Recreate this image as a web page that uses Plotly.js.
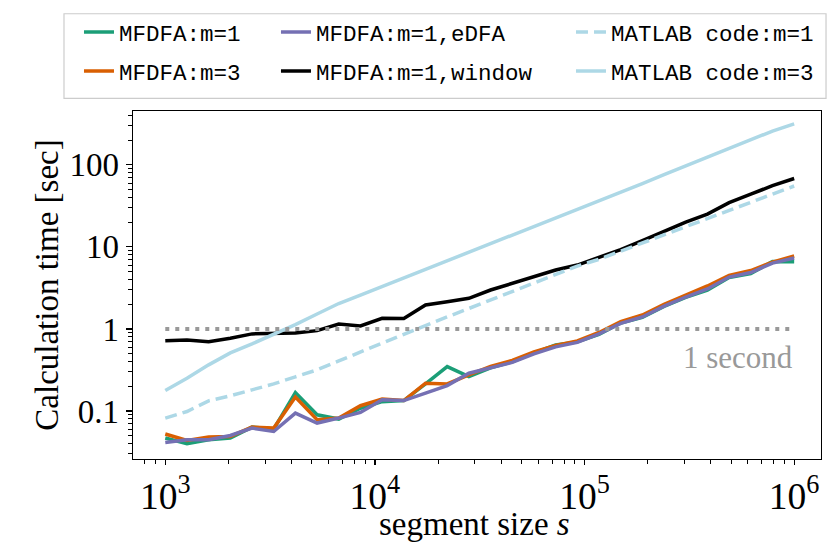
<!DOCTYPE html>
<html>
<head>
<meta charset="utf-8">
<script src="https://cdn.plot.ly/plotly-3.0.1.min.js"></script>
<style>
  html, body { margin: 0; padding: 0; background: #fff; }
  #chart { width: 830px; height: 554px; }
</style>
</head>
<body>
<div id="chart"></div>
<script>
// segment sizes (30 log-spaced sizes from 1e3 to 1e6)
var segSize = [1000, 1269, 1610, 2043, 2593, 3290, 4175, 5298, 6723, 8532,
  10826, 13738, 17433, 22122, 28072, 35622, 45204, 57362, 72790, 92367,
  117210, 148735, 188739, 239503, 303920, 385662, 489390, 621017, 788046, 1000000];

// calculation time [sec]
var mfdfaM1 = [0.0468, 0.0399, 0.0446, 0.0468, 0.0637, 0.0602, 0.168, 0.0899, 0.0797, 0.108,
  0.130, 0.134, 0.214, 0.348, 0.263, 0.335, 0.397, 0.511, 0.639, 0.695,
  0.857, 1.18, 1.38, 1.88, 2.42, 2.98, 4.23, 4.73, 6.62, 6.59];
var mfdfaM3 = [0.0524, 0.0438, 0.0481, 0.0490, 0.0637, 0.0619, 0.148, 0.0781, 0.082, 0.116,
  0.140, 0.134, 0.218, 0.214, 0.276, 0.350, 0.414, 0.525, 0.630, 0.715,
  0.906, 1.23, 1.48, 1.99, 2.59, 3.34, 4.48, 5.15, 6.53, 7.73];
var mfdfaEdfa = [0.0414, 0.0446, 0.0446, 0.0503, 0.0619, 0.0563, 0.0942, 0.0713, 0.082, 0.0959,
  0.137, 0.134, 0.165, 0.204, 0.289, 0.340, 0.391, 0.496, 0.604, 0.685,
  0.870, 1.17, 1.40, 1.90, 2.45, 3.07, 4.29, 4.87, 6.35, 7.31];
var mfdfaWindow = [0.72, 0.734, 0.70, 0.77, 0.87, 0.887, 0.89, 0.954, 1.15, 1.09,
  1.35, 1.34, 1.96, 2.15, 2.36, 2.98, 3.60, 4.33, 5.22, 6.01,
  7.51, 9.27, 11.9, 15.6, 20.0, 25.1, 34.6, 43.9, 55.7, 68.1];
var matlabM1 = [0.082, 0.0986, 0.133, 0.153, 0.181, 0.214, 0.261, 0.317, 0.408, 0.525,
  0.676, 0.867, 1.10, 1.40, 1.77, 2.25, 2.85, 3.62, 4.60, 5.84,
  7.06, 8.87, 11.2, 14.0, 17.6, 22.2, 27.8, 34.9, 43.9, 55.2];
var matlabM3 = [0.178, 0.251, 0.365, 0.511, 0.657, 0.857, 1.13, 1.52, 2.04, 2.59,
  3.29, 4.17, 5.28, 6.72, 8.52, 10.8, 13.7, 17.4, 22.1, 28.0,
  36.1, 45.8, 58.9, 75.8, 96.6, 124, 158, 203, 258, 316];

// one-second reference
var refX = [1000, 1000000];
var refY = [1, 1];

var serif = "Liberation Serif, Times New Roman, serif";
var mono = "Liberation Mono, DejaVu Sans Mono, monospace";

function line(y, name, color, legend, dash) {
  return {
    x: segSize, y: y, name: name, type: "scatter", mode: "lines",
    line: { color: color, width: 3.5, dash: dash || "solid" },
    legend: legend
  };
}

var data = [
  line(mfdfaM1, "MFDFA:m=1", "#1b9e77", "legend"),
  line(mfdfaM3, "MFDFA:m=3", "#d95f02", "legend4"),
  line(mfdfaEdfa, "MFDFA:m=1,eDFA", "#7570b3", "legend2"),
  line(mfdfaWindow, "MFDFA:m=1,window", "#000000", "legend5"),
  line(matlabM1, "MATLAB code:m=1", "#add8e6", "legend3", "12px,6px"),
  line(matlabM3, "MATLAB code:m=3", "#add8e6", "legend6"),
  {
    x: refX, y: refY, type: "scatter", mode: "lines", showlegend: false,
    line: { color: "#999999", width: 4, dash: "4px,6px" }, hoverinfo: "skip"
  }
];

// one legend per entry so the three columns can sit where the reference has them
function legendAt(x, y) {
  return {
    x: x, y: y, xanchor: "left", yanchor: "middle",
    bgcolor: "rgba(0,0,0,0)", borderwidth: 0,
    font: { family: mono, size: 22.5, color: "#000" }
  };
}
var colX = [-0.0785, 0.2078, 0.6366];
var rowY = [1.226, 1.1142];

var axisCommon = {
  type: "log", showgrid: false, zeroline: false,
  showline: true, linecolor: "#000", linewidth: 1.3, mirror: true,
  ticks: "outside", ticklen: 6, tickwidth: 1.2, tickcolor: "#000",
  minor: { ticks: "outside", ticklen: 3.5, tickwidth: 1, tickcolor: "#000", dtick: "D1" }
};

var layout = {
  width: 830, height: 554,
  margin: { l: 133, r: 9, t: 111, b: 95, autoexpand: false },
  paper_bgcolor: "#fff", plot_bgcolor: "#fff",
  xaxis: Object.assign({}, axisCommon, {
    range: [2.846, 6.128], dtick: 1, exponentformat: "power", ticklen: 5,
    tickfont: { family: serif, size: 30, color: "#000" }
  }),
  yaxis: Object.assign({}, axisCommon, {
    range: [-1.585, 2.656], dtick: 1, exponentformat: "none",
    tickfont: { family: serif, size: 33, color: "#000" },
    title: { text: "Calculation time [sec]", font: { family: serif, size: 33, color: "#000" }, standoff: 1 }
  }),
  legend: legendAt(colX[0], rowY[0]),
  legend2: legendAt(colX[1], rowY[0]),
  legend3: legendAt(colX[2], rowY[0]),
  legend4: legendAt(colX[0], rowY[1]),
  legend5: legendAt(colX[1], rowY[1]),
  legend6: legendAt(colX[2], rowY[1]),
  shapes: [{
    type: "rect", xref: "paper", yref: "paper",
    x0: -0.1003, x1: 1.0073, y0: 1.0364, y1: 1.2794,
    line: { color: "#cccccc", width: 1.2 }, fillcolor: "rgba(255,255,255,0.8)", layer: "below"
  }],
  annotations: [{
    text: "1 second", xref: "paper", yref: "paper", x: 0.962, y: 0.2906,
    xanchor: "right", yanchor: "middle", showarrow: false,
    font: { family: serif, size: 31, color: "#999999" }
  }, {
    // x-axis title
    text: "segment size <i>s</i>", xref: "paper", yref: "paper", x: 0.497, y: -0.186,
    xanchor: "center", yanchor: "middle", showarrow: false,
    font: { family: serif, size: 33, color: "#000" }
  }],
  showlegend: true
};

Plotly.newPlot("chart", data, layout, { displayModeBar: false, staticPlot: true });
</script>
</body>
</html>
